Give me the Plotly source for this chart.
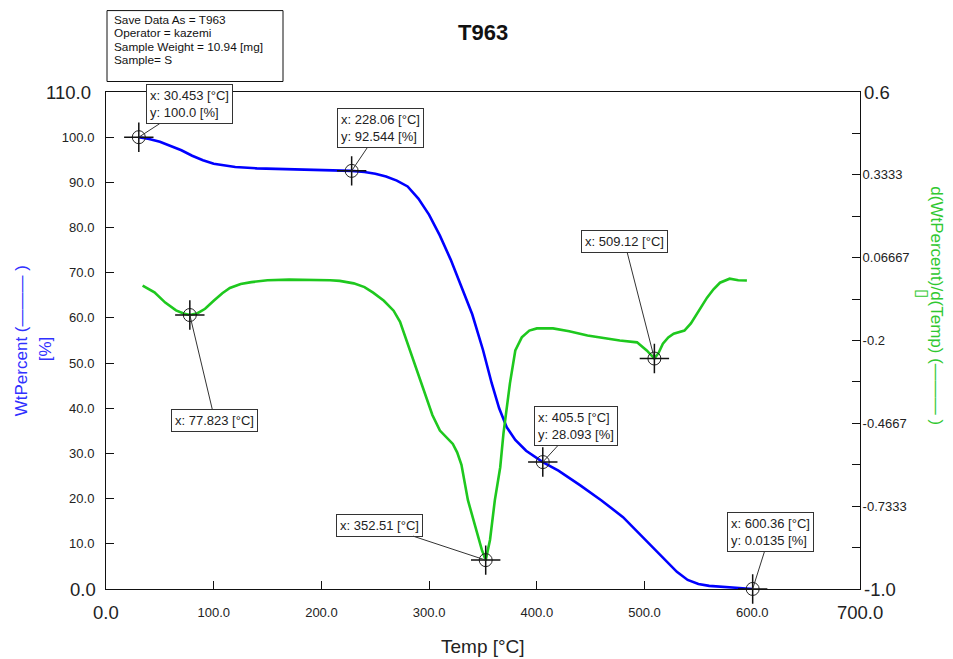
import plotly.graph_objects as go

# ---- data ----
temp_wt = [30.453, 40, 50, 60, 70, 80, 90, 100, 110, 120, 140, 160, 180, 200, 228.06,
           240, 250, 260, 270, 280, 290, 300, 310, 320, 330, 340, 350, 358, 365, 372,
           380, 390, 405.5, 420, 440, 460, 480, 500, 510, 520, 530, 540, 550, 560, 575,
           590, 600.36]
wt_percent = [100.0, 99.6, 99.0, 98.1, 97.1, 95.9, 94.9, 94.1, 93.7, 93.4, 93.1, 93.0, 92.9,
              92.8, 92.544, 92.3, 91.9, 91.3, 90.4, 89.1, 86.4, 82.8, 78.2, 72.9, 67.0, 60.8,
              52.9, 45.6, 40.0, 35.8, 33.0, 30.6, 28.093, 26.2, 23.0, 19.6, 15.9, 11.0, 8.6,
              6.2, 3.8, 2.0, 1.1, 0.7, 0.5, 0.3, 0.0135]

temp_d = [34, 45, 55, 65, 72, 77.823, 85, 92, 100, 108, 115, 125, 135, 150, 170, 190, 208,
          217, 230, 240, 248, 258, 267, 273, 279, 284, 289, 294, 298, 303, 310, 316, 322,
          326, 330, 336, 344.5, 349, 352.51, 356.5, 361, 366, 369, 373, 375, 380, 386, 393,
          400, 415, 430, 447, 462, 477, 493, 502, 509.12, 513, 517, 522, 527, 537, 543, 549,
          554, 558, 564, 570, 579, 587, 595]
deriv = [-0.023, -0.045, -0.078, -0.103, -0.113, -0.118, -0.112, -0.098, -0.072, -0.048,
         -0.031, -0.018, -0.012, -0.006, -0.004, -0.004, -0.006, -0.008, -0.016, -0.028,
         -0.046, -0.072, -0.104, -0.140, -0.200, -0.250, -0.300, -0.350, -0.393, -0.440,
         -0.490, -0.512, -0.533, -0.560, -0.600, -0.714, -0.820, -0.875, -0.907, -0.842,
         -0.714, -0.608, -0.499, -0.393, -0.338, -0.232, -0.190, -0.168, -0.161, -0.161,
         -0.170, -0.184, -0.192, -0.200, -0.206, -0.232, -0.258, -0.240, -0.210, -0.190,
         -0.178, -0.168, -0.145, -0.113, -0.085, -0.062, -0.035, -0.014, -0.001, -0.006,
         -0.007]

# marked points
wt_mark_x = [30.453, 228.06, 405.5, 600.36]
wt_mark_y = [100.0, 92.544, 28.093, 0.0135]
wt_mark_text = ["x: 30.453 [°C]<br>y: 100.0 [%]", "x: 228.06 [°C]<br>y: 92.544 [%]",
                "x: 405.5 [°C]<br>y: 28.093 [%]", "x: 600.36 [°C]<br>y: 0.0135 [%]"]
wt_mark_off = [(51, -33), (29, -43), (33, -36), (18, -57)]

d_mark_x = [77.823, 352.51, 509.12]
d_mark_y = [-0.118, -0.907, -0.258]
d_mark_text = ["x: 77.823 [°C]", "x: 352.51 [°C]", "x: 509.12 [°C]"]
d_mark_off = [(25, 105), (-106, -35), (-30, -117)]

x_ticks = [100, 200, 300, 400, 500, 600]
x_ticktext = ["100.0", "200.0", "300.0", "400.0", "500.0", "600.0"]
y_ticks = [10, 20, 30, 40, 50, 60, 70, 80, 90, 100]
y_ticktext = ["10.0", "20.0", "30.0", "40.0", "50.0", "60.0", "70.0", "80.0", "90.0", "100.0"]
y2_ticks = [0.3333, 0.06667, -0.2, -0.4667, -0.7333]
y2_ticktext = ["0.3333", "0.06667", "-0.2", "-0.4667", "-0.7333"]
y2_minor = [0.4667, 0.2, -0.0667, -0.3333, -0.6, -0.8667]

info_lines = ["Save Data As = T963", "Operator = kazemi", "Sample Weight = 10.94 [mg]", "Sample= S"]

FONT = "Liberation Sans, Arial, sans-serif"
BLUE = "#0000ff"
GREEN = "#1ec81e"

fig = go.Figure()
fig.add_trace(go.Scatter(x=temp_wt, y=wt_percent, mode="lines", line=dict(color=BLUE, width=2.6),
                         yaxis="y", hoverinfo="skip", showlegend=False))
fig.add_trace(go.Scatter(x=temp_d, y=deriv, mode="lines", line=dict(color=GREEN, width=2.6),
                         yaxis="y2", hoverinfo="skip", showlegend=False))

for xs, ys, ax in [(wt_mark_x, wt_mark_y, "y"), (d_mark_x, d_mark_y, "y2")]:
    fig.add_trace(go.Scatter(x=xs, y=ys, mode="markers", yaxis=ax, cliponaxis=False,
                             marker=dict(symbol="circle-open", size=13, color="#222",
                                         line=dict(width=1, color="#222")),
                             hoverinfo="skip", showlegend=False))
    fig.add_trace(go.Scatter(x=xs, y=ys, mode="markers", yaxis=ax, cliponaxis=False,
                             marker=dict(symbol="cross-thin-open", size=21, color="#111",
                                         line=dict(width=1.5, color="#111")),
                             hoverinfo="skip", showlegend=False))

annotations = []
ann_style = dict(showarrow=True, arrowhead=0, arrowwidth=1, arrowcolor="#333", standoff=0,
                 bordercolor="#333", borderwidth=1, borderpad=3, bgcolor="white", align="left",
                 font=dict(family=FONT, size=13, color="#222"), axref="pixel", ayref="pixel")
for x, y, t, (ox, oy) in zip(wt_mark_x, wt_mark_y, wt_mark_text, wt_mark_off):
    annotations.append(dict(x=x, y=y, xref="x", yref="y", text=t, ax=ox, ay=oy, **ann_style))
for x, y, t, (ox, oy) in zip(d_mark_x, d_mark_y, d_mark_text, d_mark_off):
    annotations.append(dict(x=x, y=y, xref="x", yref="y2", text=t, ax=ox, ay=oy, **ann_style))

# page has an 8px body margin: screen coords = figure coords + 8
OFF = 8
L, R, T, B = 106, 860, 91.5, 589          # plot area in screen pixels
def px(xp):
    return (xp - L) / (R - L)
def py(yp):
    return (B - yp) / (B - T)

big = dict(family=FONT, size=18.5, color="#222")
blue_t = dict(family=FONT, size=17, color="#3030ff")
green_t = dict(family=FONT, size=17, color="#30c830")
annotations += [
    dict(x=px(93), y=110, xref="paper", yref="y", text="110.0", showarrow=False,
         xanchor="right", yanchor="middle", font=big),
    dict(x=px(98), y=0, xref="paper", yref="y", text="0.0", showarrow=False,
         xanchor="right", yanchor="middle", font=big),
    dict(x=0, y=py(613), xref="x", yref="paper", text="0.0", showarrow=False,
         xanchor="center", yanchor="middle", font=big),
    dict(x=700, y=py(613), xref="x", yref="paper", text="700.0", showarrow=False,
         xanchor="center", yanchor="middle", font=big),
    dict(x=px(862), y=0.6, xref="paper", yref="y2", text="0.6", showarrow=False,
         xanchor="left", yanchor="middle", font=big),
    dict(x=px(862), y=-1.0, xref="paper", yref="y2", text="-1.0", showarrow=False,
         xanchor="left", yanchor="middle", font=big),
    # title
    dict(x=0.5, y=py(32), xref="paper", yref="paper", text="<b>T963</b>", showarrow=False,
         xanchor="center", yanchor="middle", font=dict(family=FONT, size=22, color="#111")),
    # x-axis title
    dict(x=0.5, y=py(647), xref="paper", yref="paper", text="Temp [°C]", showarrow=False,
         xanchor="center", yanchor="middle", font=dict(family=FONT, size=19, color="#222")),
    # left axis title (two lines)
    dict(x=px(21), y=py(341), xref="paper", yref="paper", text="WtPercent (——— )",
         showarrow=False, textangle=-90, xanchor="center", yanchor="middle", font=blue_t),
    dict(x=px(45), y=py(348), xref="paper", yref="paper", text="[%]",
         showarrow=False, textangle=-90, xanchor="center", yanchor="middle", font=blue_t),
    # right axis title (two lines)
    dict(x=px(937), y=py(306), xref="paper", yref="paper",
         text="d(WtPercent)/d(Temp) (——— )", showarrow=False, textangle=90,
         xanchor="center", yanchor="middle", font=green_t),
    dict(x=px(923), y=py(294), xref="paper", yref="paper", text="▯", showarrow=False,
         textangle=90, xanchor="center", yanchor="middle", font=green_t),
]
for i, line in enumerate(info_lines):
    annotations.append(dict(x=px(112), y=py(19 + i * 13.5), xref="paper", yref="paper",
                            text=line, showarrow=False, xanchor="left", yanchor="middle",
                            font=dict(family=FONT, size=11.8, color="#111")))

shapes = [dict(type="rect", xref="paper", yref="paper", x0=px(107), x1=px(283),
               y0=py(81), y1=py(10), line=dict(color="#111", width=1), fillcolor="white",
               layer="below")]

axis_common = dict(showgrid=False, zeroline=False, showline=True, linecolor="#111",
                   linewidth=1, ticks="inside", ticklen=8, tickcolor="#111", tickwidth=1,
                   tickfont=dict(family=FONT, size=13, color="#222"))

W, H = 953, 659
fig.update_layout(
    width=W, height=H,
    margin=dict(l=L - OFF, r=W - (R - OFF), t=T - OFF, b=H - (B - OFF)),
    paper_bgcolor="white", plot_bgcolor="white",
    xaxis=dict(range=[0, 700], tickmode="array", tickvals=x_ticks, ticktext=x_ticktext,
               mirror=True, ticklabelstandoff=11, **axis_common),
    yaxis=dict(range=[0, 110], tickmode="array", tickvals=y_ticks, ticktext=y_ticktext,
               ticklabelstandoff=8, **axis_common),
    yaxis2=dict(range=[-1.0, 0.6], overlaying="y", side="right", tickmode="array",
                tickvals=y2_ticks, ticktext=y2_ticktext, ticklabelstandoff=-1,
                minor=dict(tickmode="array", tickvals=y2_minor, ticks="inside", ticklen=8,
                           tickcolor="#111", showgrid=False),
                **axis_common),
    annotations=annotations, shapes=shapes, showlegend=False,
)

fig.write_html("out.html", config={"displayModeBar": False})
